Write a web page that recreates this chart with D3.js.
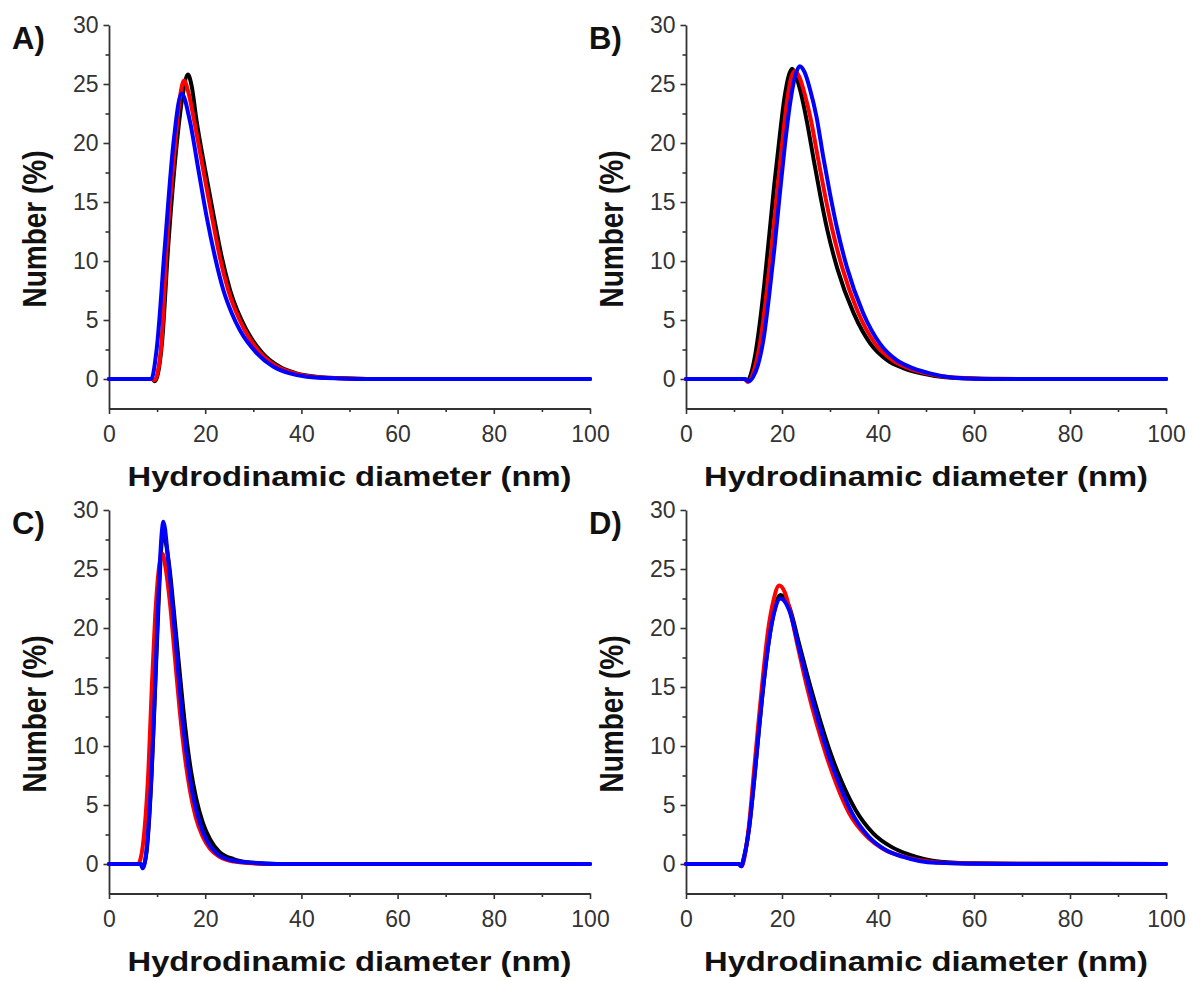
<!DOCTYPE html>
<html>
<head>
<meta charset="utf-8">
<script src="https://cdn.jsdelivr.net/npm/d3@7"></script>
<style>
  html, body { margin: 0; padding: 0; background: #fff; }
  svg { display: block; }
</style>
</head>
<body>
<svg id="chart" width="1193" height="981"></svg>
<script>
// ---------- DATA ----------
const panelLabels = ["A)", "B)", "C)", "D)"];
const seriesColors = ["#000000", "#ff0000", "#0000ff"];
const xTickValues = [0, 20, 40, 60, 80, 100];
const xMinorTicks = [10, 30, 50, 70, 90];
const yTickValues = [0, 5, 10, 15, 20, 25, 30];
const yMinorTicks = [2.5, 7.5, 12.5, 17.5, 22.5, 27.5];
const xTitle = "Hydrodinamic diameter (nm)";
const yTitle = "Number (%)";

// Panel A
const A_black = [[0,0],[9,0],[9.5,-0.2],[10.2,0.5],[11.0,3],[12.3,11.2],[14.1,20],[15.3,24],[16.4,25.8],[17.2,24.8],[18.2,21.9],[20.0,17.7],[21.8,13.75],[23.4,10.4],[25.2,7.5],[28.6,4.15],[31.9,2.2],[35.5,1.04],[39,0.48],[43,0.2],[50,0.05],[57,0],[100,0]];
const A_red = [[0,0],[9,0],[9.5,-0.1],[10.1,0.5],[10.9,3],[12.0,11.2],[13.8,20],[14.8,24],[15.6,25.3],[16.5,24.3],[17.7,21.9],[19.6,17.7],[21.4,13.75],[23.0,10.4],[24.8,7.5],[28.2,4.15],[31.5,2.2],[35,1.04],[38.6,0.48],[42.5,0.2],[50,0.05],[57,0],[100,0]];
const A_blue = [[0,0],[8.8,0],[9.9,2.5],[11.6,11.2],[13.4,20],[15.1,24.2],[16.8,21.9],[18.6,17.7],[20.3,13.75],[22,10.4],[23.8,7.5],[25.5,5.6],[27.2,4.15],[30.7,2.2],[34.2,1.04],[37.6,0.48],[41.1,0.2],[48,0.05],[55,0],[100,0]];

// Panel B
const B_black = [[0,0],[12.2,0],[12.8,-0.15],[13.5,0.4],[14.4,2],[15.3,4.5],[16.3,8],[17.3,12],[18.4,16.5],[19.5,20.5],[20.5,23.8],[21.4,25.7],[22.1,26.3],[22.9,25.7],[23.9,24.3],[25.2,21.8],[26.6,18.6],[28,15.5],[29.4,12.7],[31.5,9.4],[34.9,5.6],[38.4,3.0],[41.9,1.6],[45.4,0.9],[49,0.48],[54,0.15],[60,0.04],[65,0],[100,0]];
const B_red = [[0,0],[12.2,0],[12.9,-0.25],[13.8,0.3],[14.7,1.5],[15.6,3.5],[16.7,7],[17.8,11],[18.9,15.5],[20.0,19.8],[21.0,23.4],[21.9,25.5],[22.7,26.1],[23.6,25.6],[24.7,24.2],[26.1,21.8],[27.6,18.5],[29,15.5],[30.4,12.8],[32.5,9.5],[35.8,5.7],[39.4,3.0],[43,1.6],[46.5,0.9],[50,0.48],[55,0.15],[60,0.05],[65,0.02],[73,0],[100,0]];
const B_blue = [[0,0],[12.3,0],[13.0,-0.2],[14.0,0.2],[15.0,1.2],[16.2,3.5],[17.3,7],[18.4,11],[19.5,15.5],[20.6,19.8],[21.7,23.4],[22.7,25.6],[23.7,26.5],[24.7,26.0],[25.8,24.6],[27.2,22.2],[28.6,18.8],[30,15.7],[31.4,12.9],[33.5,9.5],[36.9,5.6],[40.4,3.0],[43.9,1.6],[47.4,0.9],[50.8,0.48],[55,0.15],[60,0.03],[65,0],[100,0]];

// Panel C
const C_black = [[0,0],[6.6,0],[7.0,-0.3],[7.8,1.0],[8.9,8],[9.6,15],[10.3,22],[10.9,27],[11.3,28.2],[11.8,27.3],[12.6,25],[13.7,20.5],[14.8,15.8],[15.9,11.4],[17,8],[18.1,5.6],[19.5,3.5],[21,2.1],[23,1.0],[26,0.4],[30,0.1],[35,0],[100,0]];
const C_red = [[0,0],[6.0,0],[6.6,0.5],[7.4,3],[8.2,8],[8.9,15],[9.6,21],[10.3,24.8],[11.1,26.3],[11.8,25],[12.7,22],[13.7,17.5],[14.7,13],[15.8,9],[16.8,6.3],[18,4],[19.5,2.3],[21,1.3],[23,0.6],[26,0.2],[30,0.05],[35,0],[100,0]];
const C_blue = [[0,0],[6.6,0],[7.0,-0.37],[7.8,1.2],[8.9,8.2],[9.6,15.3],[10.25,22.4],[10.95,28.0],[11.3,29.0],[12.3,25.8],[13.4,21.0],[14.4,16.2],[15.45,11.6],[16.5,8.2],[17.5,5.7],[18.9,3.45],[20.3,2.0],[22.4,0.9],[25.2,0.34],[30,0.1],[35,0],[100,0]];

// Panel D
const D_black = [[0,0],[11,0],[11.5,-0.15],[12.1,0.6],[13.1,2.9],[14.2,7.1],[15.2,11.4],[16.25,15.6],[17.3,19.0],[18.3,21.3],[19.7,22.8],[21.5,21.8],[23.6,18.6],[25.8,15.2],[28,12.1],[30.2,9.3],[32.4,7.0],[35.3,4.6],[39,2.6],[42.8,1.45],[46.5,0.8],[53,0.2],[60,0.06],[70,0.02],[85,0.02],[100,0]];
const D_red = [[0,0],[11,0],[11.6,-0.2],[12.2,0.6],[13.1,3.2],[14.1,7.6],[15.1,12],[16.1,16.2],[17.1,19.8],[18.2,22.3],[19.4,23.6],[20.6,23.0],[21.6,21.6],[23.3,18.4],[25.2,15.0],[27.2,11.9],[29.3,9.1],[31.3,6.8],[34,4.3],[37.5,2.4],[41,1.3],[45,0.66],[52,0.15],[60,0.04],[100,0]];
const D_blue = [[0,0],[11.0,0],[11.5,-0.2],[12.1,0.6],[13.1,2.9],[14.2,7.1],[15.2,11.4],[16.25,15.6],[17.3,19.0],[18.3,21.2],[19.7,22.5],[21.5,21.5],[23.5,18.4],[25.6,15.0],[27.7,11.9],[29.8,9.1],[31.9,6.8],[34.6,4.3],[38.1,2.3],[41.6,1.19],[45.1,0.62],[52,0.1],[66,0],[100,0]];

const panelSeries = [
  [A_black, A_red, A_blue],
  [B_black, B_red, B_blue],
  [C_black, C_red, C_blue],
  [D_black, D_red, D_blue]
];

// ---------- LAYOUT ----------
const FONT = "'Liberation Sans', Arial, Helvetica, sans-serif";
const colX = [[109, 590], [686, 1166]];
const rowY = [[408.5, 25], [893.5, 510]];
const axisColor = "#333333";

const svg = d3.select("#chart");

panelSeries.forEach((series, i) => {
  const col = i % 2, row = Math.floor(i / 2);
  const x = d3.scaleLinear().domain([0, 100]).range(colX[col]);
  const y = d3.scaleLinear().domain([-2.5, 30]).range(rowY[row]);
  const g = svg.append("g");

  // minor ticks
  g.append("g")
    .attr("transform", `translate(0,${y(-2.5)})`)
    .call(d3.axisBottom(x).tickValues(xMinorTicks).tickSize(3.5).tickFormat(""))
    .call(s => s.select(".domain").remove());
  g.append("g")
    .attr("transform", `translate(${x(0)},0)`)
    .call(d3.axisLeft(y).tickValues(yMinorTicks).tickSize(3.5).tickFormat(""))
    .call(s => s.select(".domain").remove());

  // major axes
  g.append("g")
    .attr("transform", `translate(0,${y(-2.5)})`)
    .call(d3.axisBottom(x).tickValues(xTickValues).tickSize(5.5).tickSizeOuter(0).tickPadding(12).tickFormat(d3.format("d")));
  g.append("g")
    .attr("transform", `translate(${x(0)},0)`)
    .call(d3.axisLeft(y).tickValues(yTickValues).tickSize(5.5).tickSizeOuter(0).tickPadding(5).tickFormat(d3.format("d")));

  g.selectAll(".tick line").attr("stroke", axisColor).attr("stroke-width", 1.6);
  g.selectAll(".domain").attr("stroke", axisColor).attr("stroke-width", 1.8);
  g.selectAll(".tick text")
    .attr("fill", axisColor)
    .style("font-family", FONT)
    .style("font-size", "23px");

  // curves
  const line = d3.line()
    .x(d => x(d[0]))
    .y(d => y(d[1]))
    .curve(d3.curveMonotoneX);
  series.forEach((s, k) => {
    g.append("path")
      .datum(s)
      .attr("fill", "none")
      .attr("stroke", seriesColors[k])
      .attr("stroke-width", 4)
      .attr("stroke-linejoin", "round")
      .attr("stroke-linecap", "round")
      .attr("d", line);
  });

  // x title
  const xc = (colX[col][0] + colX[col][1]) / 2;
  g.append("text")
    .attr("x", xc)
    .attr("y", y(-2.5) + 77.5)
    .attr("text-anchor", "middle")
    .attr("textLength", 444)
    .attr("lengthAdjust", "spacingAndGlyphs")
    .style("font-family", FONT)
    .style("font-weight", "bold")
    .style("font-size", "27px")
    .attr("fill", "#111")
    .text(xTitle);

  // y title
  const yc = rowY[row][1] + 204;
  g.append("text")
    .attr("transform", `translate(${x(0) - 63},${yc}) scale(1.2,1) rotate(-90)`)
    .attr("text-anchor", "middle")
    .style("font-family", FONT)
    .style("font-weight", "bold")
    .style("font-size", "28px")
    .attr("fill", "#111")
    .text(yTitle);

  // panel label
  g.append("text")
    .attr("x", x(0) - 97)
    .attr("y", rowY[row][1] + 24)
    .style("font-family", FONT)
    .style("font-weight", "bold")
    .style("font-size", "31px")
    .attr("fill", "#111")
    .text(panelLabels[i]);
});
</script>
</body>
</html>
